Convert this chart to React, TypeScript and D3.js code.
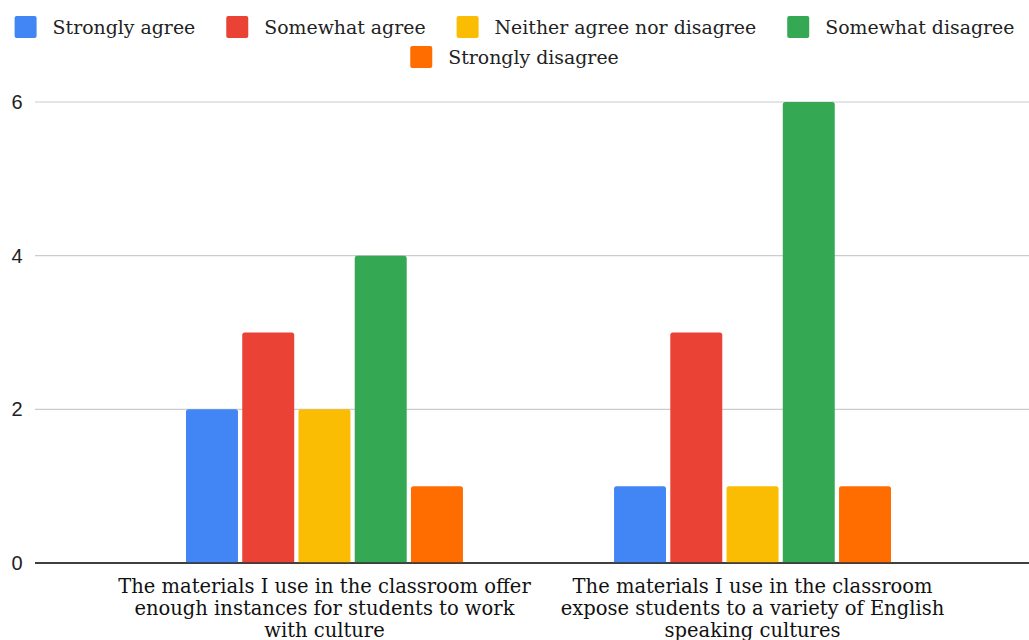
import React from "react";
import * as d3 from "d3";

const categories: string[][] = [
  ["The materials I use in the classroom offer", "enough instances for students to work", "with culture"],
  ["The materials I use in the classroom", "expose students to a variety of English", "speaking cultures"],
];
const seriesNames = ["Strongly agree", "Somewhat agree", "Neither agree nor disagree", "Somewhat disagree", "Strongly disagree"];
const seriesColors = ["#4285F4", "#EA4335", "#FBBC04", "#34A853", "#FF6D01"];
const strongly_agree = [2, 1];
const somewhat_agree = [3, 3];
const neither = [2, 1];
const somewhat_disagree = [4, 6];
const strongly_disagree = [1, 1];
const seriesValues = [strongly_agree, somewhat_agree, neither, somewhat_disagree, strongly_disagree];
const yTicks = [0, 2, 4, 6];

const W = 1029;
const H = 640;
const SERIF = "'DejaVu Serif', serif";
const LEGEND_FS = 18.9;
const LABEL_FS = 19.5;

function measure(text: string, font: string): number {
  const c = document.createElement("canvas");
  const ctx = c.getContext("2d")!;
  ctx.font = font;
  return ctx.measureText(text).width;
}

function topRounded(x: number, y: number, w: number, h: number, r: number) {
  const rr = Math.min(r, h / 2, w / 2);
  const p = d3.path();
  p.moveTo(x, y + h);
  p.lineTo(x, y + rr);
  p.arcTo(x, y, x + rr, y, rr);
  p.lineTo(x + w - rr, y);
  p.arcTo(x + w, y, x + w, y + rr, rr);
  p.lineTo(x + w, y + h);
  p.closePath();
  return p.toString();
}

export default function App() {
  const groupIdx = categories.map((_, i) => String(i));
  const x0 = d3.scaleBand<string>().domain(groupIdx).range([186, 891]).paddingInner(0.353);
  const x1 = d3.scaleBand<string>().domain(seriesNames).range([0, x0.bandwidth()]).paddingInner(0.076);
  const y = d3.scaleLinear().domain([0, 6]).range([563, 102]);

  // legend flow layout, centered rows
  const font = `${LEGEND_FS}px ${SERIF}`;
  const sw = 22, gapText = 16, gapItem = 31, maxW = W - 8;
  const items = seriesNames.map((n, i) => ({ n, i, w: sw + gapText + measure(n, font) }));
  const rows: typeof items[] = [];
  let cur: typeof items = [];
  let curW = 0;
  items.forEach((it) => {
    const add = cur.length ? gapItem + it.w : it.w;
    if (cur.length && curW + add > maxW) {
      rows.push(cur);
      cur = [it];
      curW = it.w;
    } else {
      cur.push(it);
      curW += add;
    }
  });
  if (cur.length) rows.push(cur);

  const legend: React.ReactNode[] = [];
  rows.forEach((row, ri) => {
    const total = row.reduce((s, it) => s + it.w, 0) + gapItem * (row.length - 1);
    let xx = (W - total) / 2;
    const cy = 27 + ri * 30;
    row.forEach((it) => {
      legend.push(
        <g key={it.n}>
          <rect x={xx} y={cy - 11} width={sw} height={sw} rx={2} fill={seriesColors[it.i]} />
          <text x={xx + sw + gapText} y={cy + 7} fontFamily={SERIF} fontSize={LEGEND_FS} fill="#222">
            {it.n}
          </text>
        </g>
      );
      xx += it.w + gapItem;
    });
  });

  return (
    <svg width={W} height={H} style={{ position: "absolute", left: 0, top: 0, background: "#fff" }}>
      {legend}
      {yTicks.map((t) => (
        <g key={t}>
          <line x1={35} x2={W} y1={y(t)} y2={y(t)} stroke={t === 0 ? "#333" : "#ccc"} strokeWidth={t === 0 ? 1.5 : 1.2} />
          <text x={17} y={y(t) + 7} textAnchor="middle" fontFamily="Arial, 'Liberation Sans', sans-serif" fontSize={20} fill="#222">
            {t}
          </text>
        </g>
      ))}
      {categories.map((_, gi) =>
        seriesNames.map((s, si) => {
          const v = seriesValues[si][gi];
          const bx = x0(String(gi))! + x1(s)!;
          const by = y(v);
          return <path key={`${gi}-${si}`} d={topRounded(bx, by, x1.bandwidth(), y(0) - by, 2.5)} fill={seriesColors[si]} />;
        })
      )}
      {categories.map((lines, gi) => (
        <text key={gi} textAnchor="middle" fontFamily={SERIF} fontSize={LABEL_FS} fill="#111">
          {lines.map((l, li) => (
            <tspan key={li} x={x0(String(gi))! + x0.bandwidth() / 2} y={593 + li * 22}>
              {l}
            </tspan>
          ))}
        </text>
      ))}
      {/* redraw baseline over bars */}
      <line x1={35} x2={W} y1={y(0)} y2={y(0)} stroke="#333" strokeWidth={1.5} />
    </svg>
  );
}
